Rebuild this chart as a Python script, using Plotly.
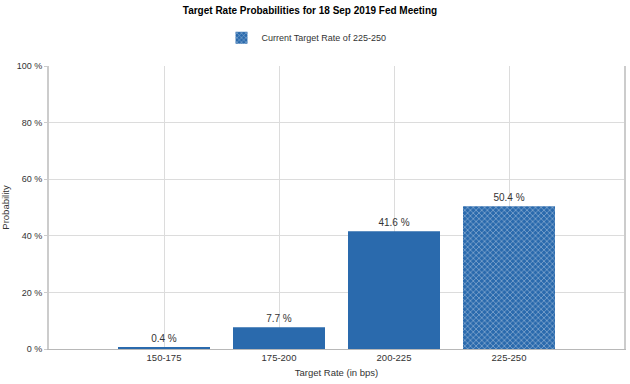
import plotly.graph_objects as go

categories = ["150-175", "175-200", "200-225", "225-250"]
probabilities = [0.4, 7.7, 41.6, 50.4]
current_rate = "225-250"
y_ticks = [0, 20, 40, 60, 80, 100]

blue = "#2a6aad"
font = "Liberation Sans"

other_x = [c for c in categories if c != current_rate]
other_y = [p for c, p in zip(categories, probabilities) if c != current_rate]
cur_y = [p for c, p in zip(categories, probabilities) if c == current_rate]

fig = go.Figure()
fig.add_trace(go.Bar(
    x=other_x, y=other_y, width=0.8,
    marker=dict(color=blue, line=dict(width=0)),
    texttemplate="%{y:.1f} %", textposition="outside",
    textfont=dict(size=10, color="#333333", family=font),
    cliponaxis=False, showlegend=False, hoverinfo="skip",
))
fig.add_trace(go.Bar(
    x=[current_rate], y=cur_y, width=0.8,
    name="Current Target Rate of 225-250",
    marker=dict(color=blue, line=dict(width=0),
                pattern=dict(shape="x", fgcolor="white", bgcolor=blue,
                             size=4, solidity=0.3)),
    texttemplate="%{y:.1f} %", textposition="outside",
    textfont=dict(size=10, color="#333333", family=font),
    cliponaxis=False, hoverinfo="skip",
))

fig.update_layout(
    width=630, height=384,
    margin=dict(l=49, r=6, t=66, b=35, autoexpand=False),
    paper_bgcolor="white", plot_bgcolor="white",
    barmode="overlay",
    font=dict(family=font, size=9.5, color="#333333"),
    title=dict(text="<b>Target Rate Probabilities for 18 Sep 2019 Fed Meeting</b>",
               x=0.492, xanchor="center", y=0.972, yanchor="middle",
               font=dict(size=10, color="#000000", family=font)),
    legend=dict(orientation="h", x=0.30, xanchor="left",
                y=1.10, yanchor="middle",
                font=dict(size=9, color="#333333", family=font),
                itemwidth=30),
    xaxis=dict(
        type="category", categoryorder="array", categoryarray=categories,
        range=[-1, 4],
        showgrid=True, gridcolor="#dcdcdc", gridwidth=1,
        showline=True, linecolor="#b8b8b8", linewidth=1,
        ticks="", tickfont=dict(size=9.5, color="#333333"),
        title=dict(text="Target Rate (in bps)", standoff=6,
                   font=dict(size=9.5, color="#333333")),
        fixedrange=True,
    ),
    yaxis=dict(
        range=[0, 100], tickvals=y_ticks,
        ticktext=[f"{v} %" for v in y_ticks],
        showgrid=True, gridcolor="#dcdcdc", gridwidth=1,
        showline=True, linecolor="#cccccc", linewidth=2, mirror=True,
        zeroline=False,
        ticks="outside", ticklen=3, tickcolor="#cccccc",
        tickfont=dict(size=9, color="#333333"),
        title=dict(text="Probability", standoff=10,
                   font=dict(size=9.5, color="#333333")),
        fixedrange=True,
    ),
)

fig.write_html("out.html", config={"displayModeBar": False},
               post_script="document.body.style.margin='0';")
